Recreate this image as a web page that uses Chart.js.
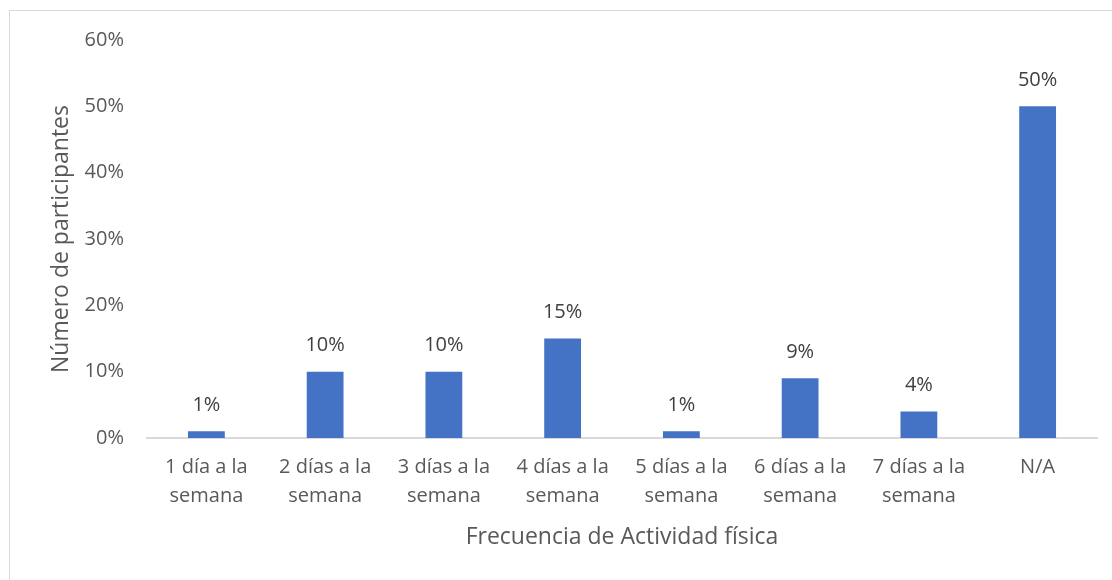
<!DOCTYPE html>
<html>
<head>
<meta charset="utf-8">
<script src="https://cdn.jsdelivr.net/npm/chart.js@4"></script>
<style>
  html, body { margin: 0; padding: 0; background: #fff; }
  #wrap { position: relative; width: 1112px; height: 580px; overflow: hidden; }
  #frame { position: absolute; left: 9px; top: 10px; width: 1120px; height: 600px; border: 1px solid #d9d9d9; box-sizing: border-box; }
  canvas { position: absolute; left: 0; top: 0; }
</style>
</head>
<body>
<div id="wrap">
  <div id="frame"></div>
  <canvas id="chart" width="1112" height="580"></canvas>
</div>
<script>
const categories = [
  ['1 día a la', 'semana'],
  ['2 días a la', 'semana'],
  ['3 días a la', 'semana'],
  ['4 días a la', 'semana'],
  ['5 días a la', 'semana'],
  ['6 días a la', 'semana'],
  ['7 días a la', 'semana'],
  'N/A'
];
const percentages = [1, 10, 10, 15, 1, 9, 4, 50];
const yTicks = [0, 10, 20, 30, 40, 50, 60];

const fontFamily = '"Open Sans", "Noto Sans", sans-serif';

// value labels above each bar
const barLabels = {
  id: 'barLabels',
  afterDatasetsDraw(chart) {
    const ctx = chart.ctx;
    const meta = chart.getDatasetMeta(0);
    ctx.save();
    ctx.font = '20px ' + fontFamily;
    ctx.fillStyle = '#404040';
    ctx.textAlign = 'center';
    ctx.textBaseline = 'middle';
    meta.data.forEach((bar, i) => {
      ctx.fillText(percentages[i] + '%', bar.x, bar.y - 26);
    });
    ctx.restore();
  }
};

new Chart(document.getElementById('chart'), {
  type: 'bar',
  data: {
    labels: categories,
    datasets: [{
      data: percentages,
      backgroundColor: '#4472C4',
      borderWidth: 0,
      categoryPercentage: 1,
      barPercentage: 0.31
    }]
  },
  options: {
    responsive: false,
    animation: false,
    layout: { padding: { left: 44, top: 40, right: 15, bottom: 0 } },
    plugins: { legend: { display: false }, tooltip: { enabled: false } },
    scales: {
      x: {
        grid: { display: false, drawTicks: false },
        border: { display: true, color: '#d9d9d9', width: 2 },
        ticks: {
          color: '#595959',
          font: { family: fontFamily, size: 20, lineHeight: 1.45 },
          padding: 15,
          maxRotation: 0,
          autoSkip: false
        },
        title: {
          display: true,
          text: 'Frecuencia de Actividad física',
          color: '#595959',
          font: { family: fontFamily, size: 23 },
          padding: { top: 4, bottom: 29 }
        },
        afterFit(scale) { scale.height = 142; }
      },
      y: {
        min: 0,
        max: 60,
        grid: { display: false, drawTicks: false },
        border: { display: false },
        afterBuildTicks(scale) { scale.ticks = yTicks.map(v => ({ value: v })); },
        ticks: {
          color: '#595959',
          font: { family: fontFamily, size: 20 },
          padding: 23,
          callback: v => v + '%'
        },
        title: {
          display: true,
          text: 'Número de participantes',
          color: '#595959',
          font: { family: fontFamily, size: 23 },
          padding: { top: 4, bottom: 4 }
        },
        afterFit(scale) { scale.width = 103; }
      }
    }
  },
  plugins: [barLabels]
});
</script>
</body>
</html>
